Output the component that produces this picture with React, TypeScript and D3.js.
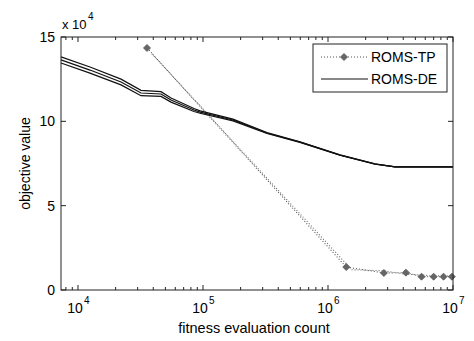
import React from "react";
import * as d3 from "d3";

const W = 474;
const H = 341;

// ROMS-DE (three runs, values in units of 1e4)
const deX = [7310, 12470, 22080, 31920, 46130, 55460, 84720, 94650, 173800, 325000, 597000, 1248000, 2377000, 3440000, 10000000];
const deMid = [13.64, 13.04, 12.33, 11.68, 11.62, 11.26, 10.67, 10.55, 10.08, 9.31, 8.77, 8.0, 7.47, 7.3, 7.3];
const deUpper = [13.82, 13.22, 12.5, 11.84, 11.76, 11.38, 10.76, 10.62, 10.13, 9.34, 8.79, 8.01, 7.48, 7.3, 7.3];
const deLower = [13.46, 12.86, 12.16, 11.52, 11.48, 11.14, 10.58, 10.48, 10.03, 9.28, 8.75, 7.99, 7.46, 7.3, 7.3];

// ROMS-TP (marked run + second dotted run), values in units of 1e4
const tpX = [35650, 1400000, 2800000, 4200000, 5600000, 7000000, 8400000, 9800000];
const tpY = [14.35, 1.36, 1.01, 1.03, 0.79, 0.79, 0.79, 0.79];
const tp2X = [39000, 1550000, 2800000, 4200000, 5600000, 7000000, 8400000, 9800000];
const tp2Y = [14.0, 1.2, 1.14, 0.93, 0.9, 0.82, 0.86, 0.8];

const yTicks = [0, 5, 10, 15];
const xMajor = [1e4, 1e5, 1e6, 1e7];
const xExp = ["4", "5", "6", "7"];

const FONT = "'Liberation Sans', Arial, sans-serif";

export default function App() {
  const L = 61, R = 453, T = 37, B = 290;
  const x = d3.scaleLog().domain([7310, 1e7]).range([L, R]);
  const y = d3.scaleLinear().domain([0, 15]).range([B, T]);

  const minor: number[] = [];
  for (let e = 3; e <= 6; e++) {
    for (let m = 2; m <= 9; m++) {
      const v = m * Math.pow(10, e);
      if (v >= 7310 && v <= 1e7) minor.push(v);
    }
  }

  const line = (xs: number[], ys: number[]) =>
    d3.line<number>().x((_, i) => x(xs[i])).y((d) => y(d))(ys) || "";

  const diamond = (cx: number, cy: number, r = 3.5) =>
    `M${cx},${cy - r}L${cx + r},${cy}L${cx},${cy + r}L${cx - r},${cy}Z`;

  const axisColor = "#222";
  const textColor = "#000";

  return (
    <svg
      width={W}
      height={H}
      style={{ position: "fixed", left: 0, top: 0, background: "#fff" }}
      fontFamily={FONT}
    >
      <rect x={0} y={0} width={W} height={H} fill="#fff" />

      {/* ROMS-TP second dotted run */}
      <path d={line(tp2X, tp2Y)} fill="none" stroke="#666" strokeWidth={1.1} strokeDasharray="1,2" />
      {/* ROMS-TP */}
      <path d={line(tpX, tpY)} fill="none" stroke="#555" strokeWidth={1.1} strokeDasharray="1,2" />
      {tpX.map((v, i) => (
        <path key={i} d={diamond(x(v), y(tpY[i]))} fill="#666" stroke="#555" strokeWidth={0.8} />
      ))}

      {/* ROMS-DE */}
      {[deUpper, deMid, deLower].map((s, i) => (
        <path key={i} d={line(deX, s)} fill="none" stroke="#111" strokeWidth={1.2} />
      ))}

      {/* frame */}
      <rect x={L} y={T} width={R - L} height={B - T} fill="none" stroke={axisColor} strokeWidth={1} />

      {/* x ticks */}
      {minor.map((v, i) => (
        <g key={"m" + i}>
          <line x1={x(v)} x2={x(v)} y1={B} y2={B - 3} stroke={axisColor} />
          <line x1={x(v)} x2={x(v)} y1={T} y2={T + 3} stroke={axisColor} />
        </g>
      ))}
      {xMajor.map((v, i) => (
        <g key={"M" + i}>
          <line x1={x(v)} x2={x(v)} y1={B} y2={B - 5} stroke={axisColor} />
          <line x1={x(v)} x2={x(v)} y1={T} y2={T + 5} stroke={axisColor} />
          <text x={x(v) - 3} y={313} fontSize={14} textAnchor="middle" fill={textColor}>10</text>
          <text x={x(v) + 6} y={304} fontSize={10} fill={textColor}>{xExp[i]}</text>
        </g>
      ))}

      {/* y ticks */}
      {yTicks.map((v) => (
        <g key={"y" + v}>
          <line x1={L} x2={L + 5} y1={y(v)} y2={y(v)} stroke={axisColor} />
          <line x1={R} x2={R - 5} y1={y(v)} y2={y(v)} stroke={axisColor} />
          <text x={55} y={y(v) + 5} fontSize={14} textAnchor="end" fill={textColor}>{v}</text>
        </g>
      ))}

      {/* exponent label */}
      <text x={62} y={29} fontSize={13} fill={textColor}>x 10</text>
      <text x={88} y={20} fontSize={10} fill={textColor}>4</text>

      {/* axis labels */}
      <text x={254} y={333} fontSize={14.5} textAnchor="middle" fill={textColor}>fitness evaluation count</text>
      <text transform={`translate(30,${(T + B) / 2}) rotate(-90)`} fontSize={14} textAnchor="middle" fill={textColor}>
        objective value
      </text>

      {/* legend */}
      <rect x={313} y={44} width={134} height={48} fill="#fff" stroke={axisColor} strokeWidth={1} />
      <line x1={321} x2={368} y1={57} y2={57} stroke="#555" strokeDasharray="1,2" />
      <path d={diamond(344, 57)} fill="#666" stroke="#555" strokeWidth={0.8} />
      <text x={371} y={62} fontSize={14} fill={textColor}>ROMS-TP</text>
      <line x1={321} x2={368} y1={79} y2={79} stroke="#111" strokeWidth={1.2} />
      <text x={371} y={84} fontSize={14} fill={textColor}>ROMS-DE</text>
    </svg>
  );
}
